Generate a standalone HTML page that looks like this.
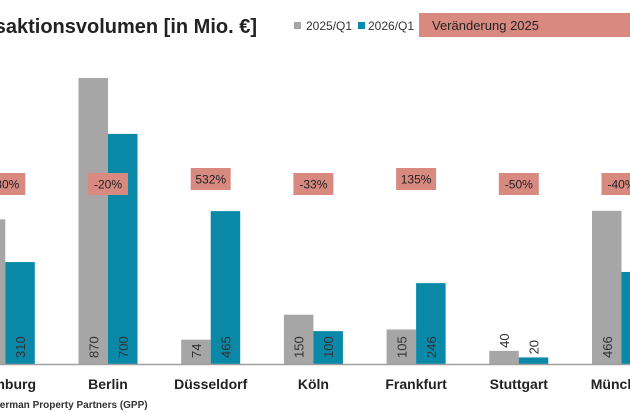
<!DOCTYPE html>
<html><head><meta charset="utf-8"><style>
html,body{margin:0;padding:0;background:#fff;width:630px;height:412px;overflow:hidden}
text{font-family:"Liberation Sans",sans-serif}
</style></head><body>
<svg id="chart" width="630" height="412" viewBox="0 0 630 412" xmlns="http://www.w3.org/2000/svg">
<text x="257" y="33" text-anchor="end" font-size="20" font-weight="bold" fill="#222">Transaktionsvolumen [in Mio. €]</text>
<g>
<rect x="294" y="22" width="7" height="7" fill="#a6a6a6"/>
<text x="306" y="30" font-size="12" fill="#333">2025/Q1</text>
<rect x="358" y="22" width="7" height="7" fill="#0a88a8"/>
<text x="368" y="30" font-size="12" fill="#333">2026/Q1</text>
<rect x="419" y="13" width="215" height="24" fill="#d98a80"/>
<text x="432" y="30" font-size="13" fill="#222">Veränderung 2025</text>
</g>
<g id="plot"></g>
<line x1="0" y1="364.5" x2="630" y2="364.5" stroke="#a0a0a0" stroke-width="1.5"/>
<text x="-8" y="408" font-size="10" font-weight="bold" fill="#333">German Property Partners (GPP)</text>
</svg>
<script>
const categories = ["Hamburg","Berlin","Düsseldorf","Köln","Frankfurt","Stuttgart","München"];
const values2025 = [440, 870, 74, 150, 105, 40, 466];
const values2026 = [310, 700, 465, 100, 246, 20, 280];
const changeLabels = ["-30%","-20%","532%","-33%","135%","-50%","-40%"];

const baseY = 364, pxPerUnit = 286/870, firstCenter = 5.3, step = 102.7, barW = 29.5;
const yScale = v => baseY - v*pxPerUnit;
const xCenter = i => firstCenter + i*step;
const svgNS = "http://www.w3.org/2000/svg";
const plot = document.getElementById('plot');
function mk(tag, attrs){const e=document.createElementNS(svgNS,tag);for(const k in attrs)e.setAttribute(k,attrs[k]);return e;}

categories.forEach((c,i)=>{
  const cx = xCenter(i);
  [[values2025[i],"#a6a6a6",cx-barW,"2025"],[values2026[i],"#0a88a8",cx,"2026"]].forEach(([v,col,x,s])=>{
    const y = yScale(v);
    const r = mk('rect',{x:x,y:y,width:barW,height:baseY-y,fill:col});
    
    
    plot.appendChild(r);
    const tx = x+barW/2+5;
    const ty = (baseY-y) > 20 ? baseY-6 : y-3;
    const t = mk('text',{x:tx,y:ty,'font-size':13,fill:'#333',transform:`rotate(-90 ${tx} ${ty})`});
    t.textContent = v;
    
    
    plot.appendChild(t);
  });
  const pos = changeLabels[i].charAt(0) !== '-';
  const by = pos ? 168 : 173;
  const b = mk('rect',{x:cx-20,y:by,width:40,height:22,fill:'#d98a80'});
  
  
  plot.appendChild(b);
  const bt = mk('text',{x:cx,y:by+15.5,'font-size':12,'text-anchor':'middle',fill:'#222'});
  bt.textContent = changeLabels[i];
  
  
  plot.appendChild(bt);
  const ct = mk('text',{x:cx,y:389,'font-size':14,'font-weight':'bold','text-anchor':'middle',fill:'#222'});
  ct.textContent = c;
  
  
  plot.appendChild(ct);
});
</script>
</body></html>
